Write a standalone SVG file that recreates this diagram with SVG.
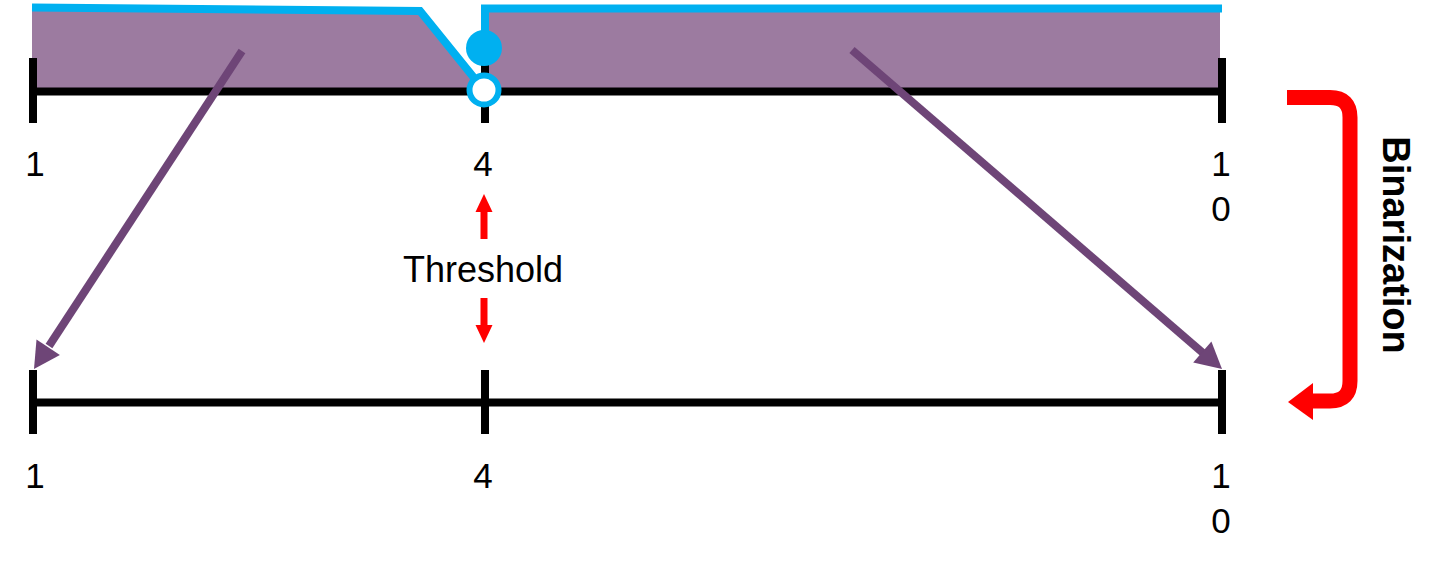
<svg xmlns="http://www.w3.org/2000/svg" width="1435" height="566" viewBox="0 0 1435 566">
<style>
.axis{stroke:#000;stroke-width:8;fill:none}
.tick{stroke:#000;stroke-width:8}
.lbl{font-family:"Liberation Sans",Arial,sans-serif;font-size:35px;fill:#000;text-anchor:middle}
.blue{stroke:#00B0F0;stroke-width:8;fill:none}
.parr{stroke:#6E4577;stroke-width:8;fill:none}
.phead{fill:#6E4577}
.red{fill:#FF0000}
</style>
<rect width="1435" height="566" fill="#fff"/>
<g id="fill-area">
<polygon points="32,8 420,12 478,88 32,88" fill="#9C7BA0"/>
<rect x="485" y="8" width="735" height="80" fill="#9C7BA0"/>
</g>
<g id="top-axis">
<line class="axis" x1="33" y1="91.5" x2="1221" y2="91.5"/>
<line class="tick" x1="33" y1="58" x2="33" y2="123"/>
<line class="tick" x1="485" y1="58" x2="485" y2="123"/>
<line class="tick" x1="1222" y1="58" x2="1222" y2="123"/>
<text class="lbl" x="35" y="176">1</text>
<text class="lbl" x="483" y="176">4</text>
<text class="lbl" x="1221" y="176">1</text>
<text class="lbl" x="1221" y="221">0</text>
</g>
<g id="step-function">
<polyline class="blue" points="32,7.5 420,11 479,84"/>
<polyline class="blue" points="485,48 485,8.5 1222,8.5"/>
<circle cx="484" cy="48" r="18" fill="#00B0F0"/>
<circle cx="484" cy="90" r="14.5" fill="#fff" stroke="#00B0F0" stroke-width="6"/>
</g>
<g id="bottom-axis">
<line class="axis" x1="33" y1="402.5" x2="1221" y2="402.5"/>
<line class="tick" x1="33" y1="370" x2="33" y2="434"/>
<line class="tick" x1="485" y1="370" x2="485" y2="434"/>
<line class="tick" x1="1222" y1="370" x2="1222" y2="434"/>
<text class="lbl" x="35" y="488">1</text>
<text class="lbl" x="483" y="488">4</text>
<text class="lbl" x="1221" y="488">1</text>
<text class="lbl" x="1221" y="533">0</text>
</g>
<g id="threshold">
<text class="lbl" x="483" y="282" style="font-size:36px">Threshold</text>
<line x1="484" y1="239" x2="484" y2="211" stroke="#FF0000" stroke-width="7"/>
<polygon class="red" points="484,194 475.5,212 492.5,212"/>
<line x1="484" y1="298" x2="484" y2="326" stroke="#FF0000" stroke-width="7"/>
<polygon class="red" points="484,343 475.5,325 492.5,325"/>
</g>
<g id="connectors">
<line class="parr" x1="242" y1="51" x2="49" y2="346"/>
<polygon class="phead" points="34,369 59.9,354.9 36.5,339.5"/>
<line class="parr" x1="852" y1="50" x2="1203" y2="353"/>
<polygon class="phead" points="1222,369 1193.2,362.6 1211.4,341.4"/>
</g>
<g id="binarization">
<path d="M1287,97.5 H1330 Q1350,97.5 1350,117.5 V381 Q1350,401 1330,401 H1311" fill="none" stroke="#FF0000" stroke-width="15"/>
<polygon class="red" points="1288,402 1313,383 1313,420"/>
<text transform="translate(1383,245) rotate(90)" style="font-family:'Liberation Sans',Arial,sans-serif;font-size:38px;font-weight:bold;text-anchor:middle" fill="#000">Binarization</text>
</g>
</svg>
